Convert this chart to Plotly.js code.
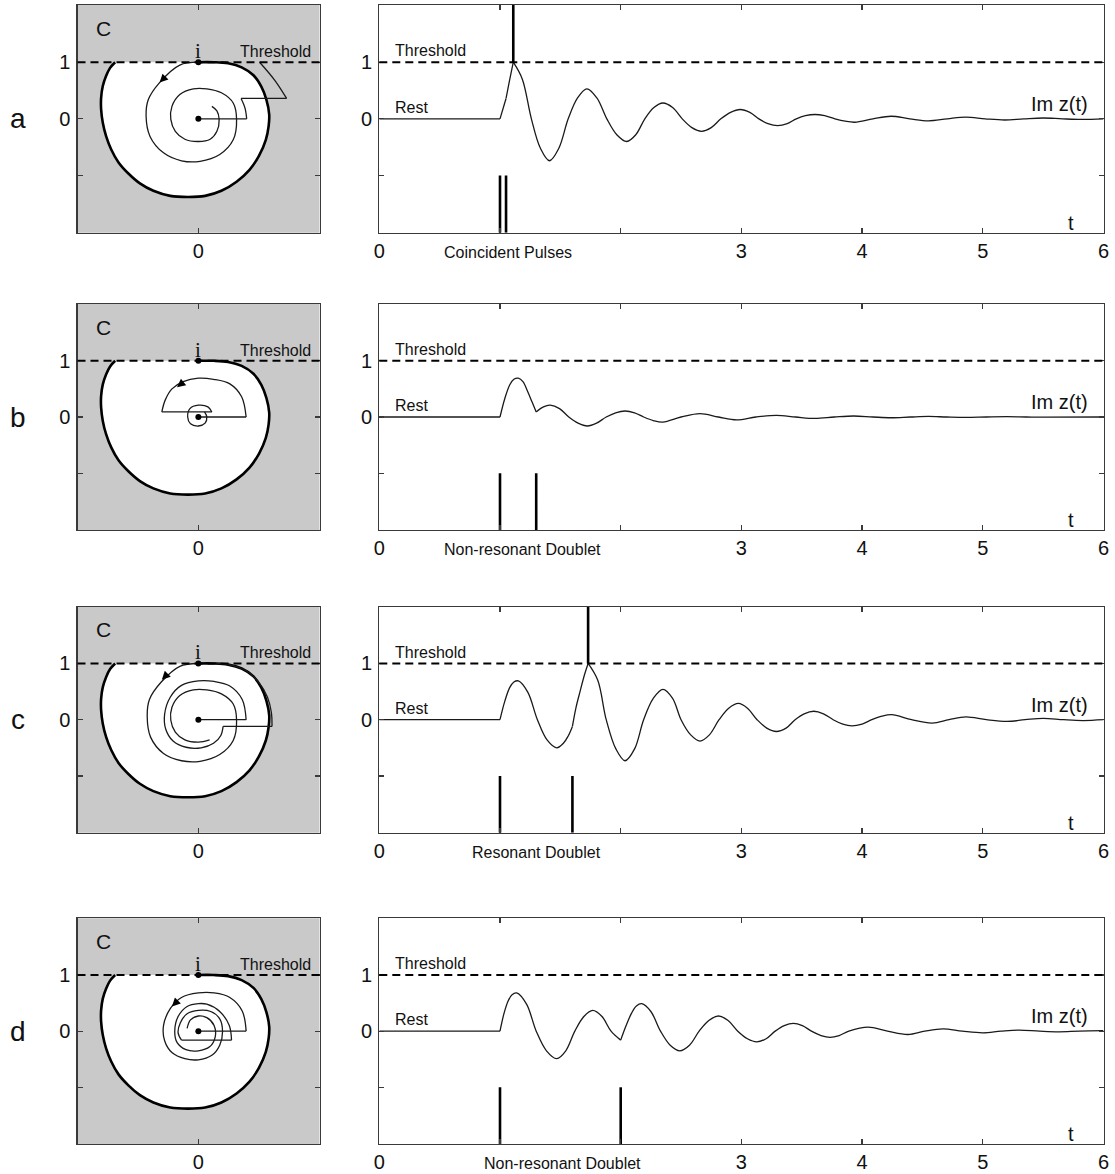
<!DOCTYPE html>
<html>
<head>
<meta charset="utf-8">
<script src="https://cdn.plot.ly/plotly-3.0.1.min.js"></script>
<style>
  html, body { margin: 0; padding: 0; background: #fff; }
  #fig { width: 1115px; height: 1174px; }
</style>
</head>
<body>
<div id="fig"></div>
<script>
// ---- labels and ticks ----
const rowLetters = ['a', 'b', 'c', 'd'];
const pulseNames = ['Coincident Pulses', 'Non-resonant Doublet', 'Resonant Doublet', 'Non-resonant Doublet'];
const pulseNameT = [1.07, 1.19, 1.30, 1.52];
const timeTicks = [0, 1, 2, 3, 4, 5, 6];
const timeTickText = ['0', '', '', '3', '4', '5', '6'];
const planeTicks = [0];
const planeTickText = ['0'];
const imTicks = [-1, 0, 1];
const imTickText = ['', '0', '1'];
const threshold = 1;
const rest = 0;
const pulseTop = -1;
const imRange = [-2.01, 2.01];
const planeRange = [-2.15, 2.155];
const timeRange = [0, 6];

// ---- input pulses and firing times ----
const pulsesA = [1.0, 1.05];
const pulsesB = [1.0, 1.30];
const pulsesC = [1.0, 1.60];
const pulsesD = [1.0, 2.0];
const spikesA = [1.11];
const spikesB = [];
const spikesC = [1.73];
const spikesD = [];

// ---- Im z(t); null separates pieces joined at a kink ----
const tA = [0, 1.0, null, 1.0, 1.05, null, 1.05, 1.08, 1.11, null,
  1.11, 1.185, 1.26, 1.335, 1.41, 1.4875, 1.565, 1.6425, 1.72, 1.8025, 1.885, 1.9675, 2.05,
  2.125, 2.20, 2.275, 2.35, 2.43, 2.51, 2.59, 2.67, 2.75, 2.83, 2.91, 2.99, 3.07, 3.145, 3.22, 3.30,
  3.38, 3.455, 3.53, 3.61, 3.69, 3.775, 3.86, 3.94, 4.09, 4.24, 4.395, 4.55, 4.705, 4.86, 5.02, 5.18,
  5.34, 5.50, 5.66, 5.82, 6.0];
const imA = [0, 0, null, 0, 0.36, null, 0.36, 0.69, 1.0, null,
  1.0, 0.70, 0, -0.52, -0.74, -0.52, 0, 0.37, 0.53, 0.37, 0, -0.28, -0.40,
  -0.28, 0, 0.20, 0.28, 0.20, 0, -0.155, -0.22, -0.155, 0, 0.115, 0.165, 0.115, 0, -0.085, -0.12,
  -0.085, 0, 0.055, 0.077, 0.055, 0, -0.042, -0.06, 0, 0.046, 0, -0.036, 0, 0.03, 0, -0.02,
  0, 0.015, 0, -0.01, 0];

const tB = [0, 1.0, null, 1.0, 1.04, 1.08, 1.115, 1.152, 1.19, 1.23, 1.265, 1.30, null,
  1.30, 1.36, 1.416, 1.493, 1.57, 1.647, 1.724, 1.80, 1.88, 1.958, 2.036, 2.115, 2.19, 2.27, 2.35,
  2.50, 2.657, 2.81, 2.96, 3.12, 3.29, 3.45, 3.61, 3.77, 3.93, 4.09, 4.24, 4.40, 4.55, 4.70, 4.86,
  5.03, 5.20, 5.36, 5.52, 6.0];
const imB = [0, 0, null, 0, 0.33, 0.57, 0.67, 0.69, 0.63, 0.45, 0.27, 0.09, null,
  0.09, 0.18, 0.21, 0.15, 0, -0.11, -0.16, -0.11, 0, 0.075, 0.107, 0.075, 0, -0.063, -0.09,
  0, 0.06, 0, -0.05, 0, 0.03, 0, -0.025, 0, 0.018, 0, -0.013, 0, 0.01, 0, -0.007,
  0, 0.005, 0, -0.004, 0];

const tC = [0, 1.0, null, 1.0, 1.04, 1.08, 1.115, 1.152, 1.23, 1.31, 1.39, 1.47, 1.525, 1.565, 1.60, null,
  1.60, 1.63, 1.663, 1.70, 1.73, null,
  1.73, 1.81, 1.88, 1.96, 2.036, 2.115, 2.19, 2.27, 2.35, 2.43, 2.50, 2.58, 2.657, 2.735, 2.815, 2.895,
  2.975, 3.05, 3.13, 3.21, 3.29, 3.37, 3.445, 3.52, 3.60, 3.68, 3.76, 3.84, 3.915, 4.0, 4.08, 4.165,
  4.246, 4.41, 4.58, 4.72, 4.86, 5.03, 5.20, 5.35, 5.50, 5.67, 5.83, 6.0];
const imC = [0, 0, null, 0, 0.33, 0.57, 0.67, 0.69, 0.49, 0, -0.36, -0.50, -0.42, -0.29, -0.12, null,
  -0.12, 0.22, 0.50, 0.80, 1.0, null,
  1.0, 0.70, 0, -0.52, -0.73, -0.52, 0, 0.38, 0.54, 0.38, 0, -0.27, -0.38, -0.27, 0, 0.205,
  0.29, 0.205, 0, -0.15, -0.21, -0.15, 0, 0.105, 0.15, 0.105, 0, -0.078, -0.11, -0.078, 0, 0.064,
  0.09, 0, -0.06, 0, 0.05, 0, -0.03, 0, 0.025, 0, -0.015, 0];

const tD = [0, 1.0, null, 1.0, 1.035, 1.07, 1.10, 1.138, 1.22, 1.30, 1.385, 1.47, 1.545, 1.62, 1.695, 1.768, 1.845, 1.92, 2.0, null,
  2.0, 2.045, 2.09, 2.13, 2.175, 2.25, 2.33, 2.41, 2.49, 2.57, 2.65, 2.73, 2.81, 2.89, 2.97, 3.05,
  3.127, 3.205, 3.28, 3.355, 3.43, 3.505, 3.58, 3.66, 3.735, 3.81, 3.89, 4.05, 4.21, 4.38, 4.52,
  4.67, 4.83, 5.0, 5.15, 5.3, 5.47, 5.63, 5.8, 6.0];
const imD = [0, 0, null, 0, 0.33, 0.55, 0.65, 0.68, 0.48, 0, -0.35, -0.49, -0.35, 0, 0.26, 0.37, 0.26, 0, -0.16, null,
  -0.16, 0.10, 0.32, 0.45, 0.49, 0.35, 0, -0.25, -0.35, -0.25, 0, 0.19, 0.27, 0.19, 0, -0.135,
  -0.19, -0.135, 0, 0.10, 0.14, 0.10, 0, -0.078, -0.11, -0.078, 0, 0.07, 0, -0.06, 0,
  0.04, 0, -0.03, 0, 0.02, 0, -0.012, 0, 0.008];

// ---- boundary of the sub-threshold basin in the complex plane ----
const edgeX = [-1.48, -1.57, -1.64, -1.70, -1.73, -1.73, -1.70, -1.64, -1.55, -1.42, -1.24, -1.04, -0.80, -0.50, -0.18,
  0.12, 0.41, 0.68, 0.91, 1.08, 1.20, 1.25, 1.26, 1.21, 1.12, 0.98, 0.77, 0.53, 0.27, 0];
const edgeY = [1.0, 0.90, 0.76, 0.58, 0.37, 0.17, -0.07, -0.31, -0.54, -0.77, -0.97, -1.14, -1.27, -1.36, -1.38,
  -1.36, -1.27, -1.11, -0.90, -0.65, -0.37, -0.13, 0.08, 0.34, 0.57, 0.77, 0.91, 0.98, 1.0, 1.0];

// ---- trajectories z(t) in the complex plane (kicks are horizontal jumps) ----
const orbitAX = [0, 0.86, null, 0.86, 0.83, 0.76, null, 0.76, 1.57, null, 1.57, 1.36, 1.09, null,
  0, -0.33, -0.69, -0.89, -0.93, -0.86, -0.62, -0.30, 0.03, 0.38, 0.62, 0.68, 0.62, 0.41, 0.15, -0.09,
  -0.33, -0.47, -0.49, -0.41, -0.24, 0, 0.21, 0.33, 0.37, 0.33, 0.24];
const orbitAY = [0, 0, null, 0, 0.19, 0.36, null, 0.36, 0.36, null, 0.36, 0.68, 1.0, null,
  1, 0.95, 0.64, 0.34, 0.05, -0.31, -0.60, -0.74, -0.75, -0.63, -0.37, -0.01, 0.28, 0.46, 0.53, 0.53,
  0.43, 0.22, -0.01, -0.22, -0.36, -0.40, -0.36, -0.22, -0.01, 0.14, 0.22];

const orbitBX = [0, 0.85, null, 0.85, 0.77, 0.56, 0.27, 0, -0.27, -0.47, -0.59, -0.65, null,
  -0.65, 0.24, null, 0.24, 0.17, 0, -0.15, -0.19, -0.14, 0, 0.12, 0.15, 0.11];
const orbitBY = [0, 0, null, 0, 0.36, 0.59, 0.67, 0.69, 0.63, 0.50, 0.30, 0.09, null,
  0.09, 0.09, null, 0.09, 0.18, 0.21, 0.15, 0, -0.12, -0.16, -0.11, 0, 0.09];

const orbitCX = [0, 0.85, null, 0.85, 0.78, 0.56, 0.28, 0, -0.30, -0.50, -0.60, -0.58, -0.45, -0.22, 0.05, 0.27, 0.40, 0.44, null,
  0.44, 1.31, null, 1.31, 1.30, 1.23, 1.08, 0.85, 0.55, 0.32, null,
  0, -0.33, -0.66, -0.87, -0.91, -0.85, -0.62, -0.30, 0.03, 0.38, 0.62, 0.68, 0.62, 0.41, 0.15, -0.09,
  -0.33, -0.47, -0.49, -0.41, -0.24, 0, 0.2];
const orbitCY = [0, 0, null, 0, 0.36, 0.60, 0.68, 0.69, 0.61, 0.40, 0.10, -0.17, -0.38, -0.49, -0.50, -0.42, -0.28, -0.12, null,
  -0.12, -0.12, null, -0.12, 0.12, 0.40, 0.66, 0.87, 0.98, 1.0, null,
  1, 0.95, 0.67, 0.36, 0.06, -0.31, -0.60, -0.73, -0.74, -0.62, -0.37, -0.01, 0.28, 0.46, 0.53, 0.53,
  0.43, 0.22, -0.01, -0.22, -0.36, -0.40, -0.36];

const orbitDX = [0, 0.85, null, 0.85, 0.78, 0.56, 0.28, 0, -0.30, -0.50, -0.62, -0.60, -0.47, -0.24, 0, 0.24, 0.38, 0.43, 0.38, 0.22, 0, -0.20, -0.32, -0.36, -0.30, null,
  -0.30, 0.59, null,
  0.59, 0.55, 0.38, 0.15, 0, -0.20, -0.36, -0.42, -0.38, -0.22, 0, 0.20, 0.30, 0.28, 0.15, 0, -0.14, -0.20];
const orbitDY = [0, 0, null, 0, 0.36, 0.60, 0.68, 0.68, 0.60, 0.40, 0.10, -0.17, -0.38, -0.49, -0.51, -0.43, -0.25, 0, 0.22, 0.35, 0.37, 0.31, 0.15, -0.03, -0.16, null,
  -0.16, -0.16, null,
  -0.16, 0.10, 0.35, 0.48, 0.49, 0.44, 0.26, 0, -0.20, -0.33, -0.35, -0.28, -0.10, 0.10, 0.24, 0.27, 0.20, 0.05];

// direction arrows on the trajectories: [head x, head y, tail x, tail y]
const arrowA = [-0.69, 0.64, -0.58, 0.75];
const arrowB = [-0.38, 0.53, -0.28, 0.61];
const arrowC = [-0.65, 0.71, -0.55, 0.81];
const arrowD = [-0.47, 0.44, -0.38, 0.53];

// ---- assemble ----
const rows = [
  { t: tA, im: imA, pulses: pulsesA, spikes: spikesA, ox: orbitAX, oy: orbitAY, arrow: arrowA },
  { t: tB, im: imB, pulses: pulsesB, spikes: spikesB, ox: orbitBX, oy: orbitBY, arrow: arrowB },
  { t: tC, im: imC, pulses: pulsesC, spikes: spikesC, ox: orbitCX, oy: orbitCY, arrow: arrowC },
  { t: tD, im: imD, pulses: pulsesD, spikes: spikesD, ox: orbitDX, oy: orbitDY, arrow: arrowD }
];

const W = 1115, H = 1174;
const FONT = '"Liberation Sans", Arial, Helvetica, sans-serif';
const SERIF = '"Liberation Serif", "Times New Roman", serif';
const FRAME = '#3a3a3a';
const SHADE = '#c9c9c9';
const rowPx = [[5, 232.7], [304, 530], [606.7, 832.7], [918.3, 1144]];
const planeDomain = [77.5 / W, 319.5 / W];
const timeDomain = [379.3 / W, 1103.5 / W];

const id = n => (n === 1 ? '' : String(n));

const traces = [];
const shapes = [];
const annotations = [];
const layout = {
  width: W, height: H,
  margin: { l: 0, r: 0, t: 0, b: 0 },
  paper_bgcolor: '#ffffff',
  plot_bgcolor: '#ffffff',
  showlegend: false,
  hovermode: false,
  font: { family: FONT, color: '#111' }
};

const axisBase = {
  showline: true, mirror: 'ticks', linecolor: FRAME, linewidth: 1.2,
  ticks: 'inside', ticklen: 5, tickwidth: 1.2, tickcolor: FRAME,
  zeroline: false, showgrid: false, fixedrange: true,
  tickmode: 'array',
  tickfont: { family: FONT, size: 20, color: '#111' }
};

const txt = (extra) => Object.assign({ showarrow: false, font: { family: FONT, size: 16, color: '#111' } }, extra);

rows.forEach((row, r) => {
  const L = 2 * r + 1, R = 2 * r + 2;
  const xL = 'x' + id(L), yL = 'y' + id(L), xR = 'x' + id(R), yR = 'y' + id(R);
  const yDom = [1 - rowPx[r][1] / H, 1 - rowPx[r][0] / H];

  layout['xaxis' + id(L)] = Object.assign({}, axisBase, {
    domain: planeDomain, range: planeRange, tickvals: planeTicks, ticktext: planeTickText,
    anchor: yL, ticklabelstandoff: 0
  });
  layout['yaxis' + id(L)] = Object.assign({}, axisBase, {
    domain: yDom, range: imRange, tickvals: imTicks, ticktext: imTickText,
    anchor: xL, ticklabelstandoff: 2
  });
  layout['xaxis' + id(R)] = Object.assign({}, axisBase, {
    domain: timeDomain, range: timeRange, tickvals: timeTicks, ticktext: timeTickText,
    anchor: yR, ticklabelstandoff: 0
  });
  layout['yaxis' + id(R)] = Object.assign({}, axisBase, {
    domain: yDom, range: imRange, tickvals: imTicks, ticktext: imTickText,
    anchor: xR, ticklabelstandoff: 2
  });

  // complex plane: grey outside, white basin below threshold
  shapes.push({
    type: 'rect', layer: 'below', xref: xL + ' domain', yref: yL + ' domain',
    x0: 0, x1: 1, y0: 0, y1: 1, fillcolor: SHADE, line: { width: 0 }
  });
  traces.push({
    x: edgeX, y: edgeY, xaxis: xL, yaxis: yL, mode: 'lines', fill: 'toself',
    fillcolor: '#ffffff', line: { width: 0, shape: 'spline' }, hoverinfo: 'skip'
  });
  traces.push({
    x: edgeX, y: edgeY, xaxis: xL, yaxis: yL, mode: 'lines',
    line: { width: 2.6, color: '#000', shape: 'spline' }, hoverinfo: 'skip'
  });
  traces.push({
    x: row.ox, y: row.oy, xaxis: xL, yaxis: yL, mode: 'lines',
    line: { width: 1.3, color: '#1a1a1a', shape: 'spline' }, hoverinfo: 'skip'
  });
  traces.push({
    x: [0, 0], y: [rest, threshold], xaxis: xL, yaxis: yL, mode: 'markers',
    marker: { size: 6, color: '#000' }, hoverinfo: 'skip'
  });

  // time course
  traces.push({
    x: row.t, y: row.im, xaxis: xR, yaxis: yR, mode: 'lines',
    line: { width: 1.3, color: '#1a1a1a', shape: 'spline' }, hoverinfo: 'skip'
  });
  const px = [], py = [];
  row.pulses.forEach(p => { px.push(p, p, null); py.push(imRange[0], pulseTop, null); });
  traces.push({
    x: px, y: py, xaxis: xR, yaxis: yR, mode: 'lines',
    line: { width: 2.6, color: '#000' }, hoverinfo: 'skip'
  });
  if (row.spikes.length) {
    const sx = [], sy = [];
    row.spikes.forEach(s => { sx.push(s, s, null); sy.push(threshold, imRange[1], null); });
    traces.push({
      x: sx, y: sy, xaxis: xR, yaxis: yR, mode: 'lines',
      line: { width: 2.6, color: '#000' }, hoverinfo: 'skip'
    });
  }

  // threshold lines
  [[xL, yL], [xR, yR]].forEach(([xa, ya]) => {
    shapes.push({
      type: 'line', layer: 'above', xref: xa + ' domain', yref: ya,
      x0: 0, x1: 1, y0: threshold, y1: threshold,
      line: { color: '#000', width: 2, dash: '8px,5px' }
    });
  });

  // text
  annotations.push(txt({ xref: 'paper', yref: yL, x: 18 / W, y: rest, text: rowLetters[r],
    xanchor: 'center', yanchor: 'middle', font: { family: FONT, size: 28, color: '#111' } }));
  annotations.push(txt({ xref: xL, yref: yL, x: -1.69, y: 1.6, text: 'C',
    xanchor: 'center', yanchor: 'middle', font: { family: FONT, size: 21, color: '#111' } }));
  annotations.push(txt({ xref: xL, yref: yL, x: 0, y: 1.2, text: 'i',
    xanchor: 'center', yanchor: 'middle', font: { family: SERIF, size: 21, color: '#111' } }));
  annotations.push(txt({ xref: xL, yref: yL, x: 1.38, y: 1.19, text: 'Threshold',
    xanchor: 'center', yanchor: 'middle' }));
  annotations.push(txt({ xref: xR, yref: yR, x: 0.115, y: 1.2, text: 'Threshold',
    xanchor: 'left', yanchor: 'middle' }));
  annotations.push(txt({ xref: xR, yref: yR, x: 0.115, y: 0.2, text: 'Rest',
    xanchor: 'left', yanchor: 'middle' }));
  annotations.push(txt({ xref: xR, yref: yR, x: 5.89, y: 0.27, text: 'Im z(t)',
    xanchor: 'right', yanchor: 'middle', font: { family: FONT, size: 20, color: '#111' } }));
  annotations.push(txt({ xref: xR, yref: yR, x: 5.73, y: -1.84, text: 't',
    xanchor: 'center', yanchor: 'middle', font: { family: FONT, size: 20, color: '#111' } }));
  annotations.push(txt({ xref: xR, yref: yR + ' domain', x: pulseNameT[r], y: -0.088, text: pulseNames[r],
    xanchor: 'center', yanchor: 'middle' }));
  const a = row.arrow;
  annotations.push({
    xref: xL, yref: yL, axref: xL, ayref: yL, x: a[0], y: a[1], ax: a[2], ay: a[3],
    text: '', showarrow: true, arrowhead: 2, arrowsize: 1.4, arrowwidth: 1.2, arrowcolor: '#000'
  });
});

layout.shapes = shapes;
layout.annotations = annotations;

Plotly.newPlot('fig', traces, layout, { staticPlot: true, displayModeBar: false });
</script>
</body>
</html>
